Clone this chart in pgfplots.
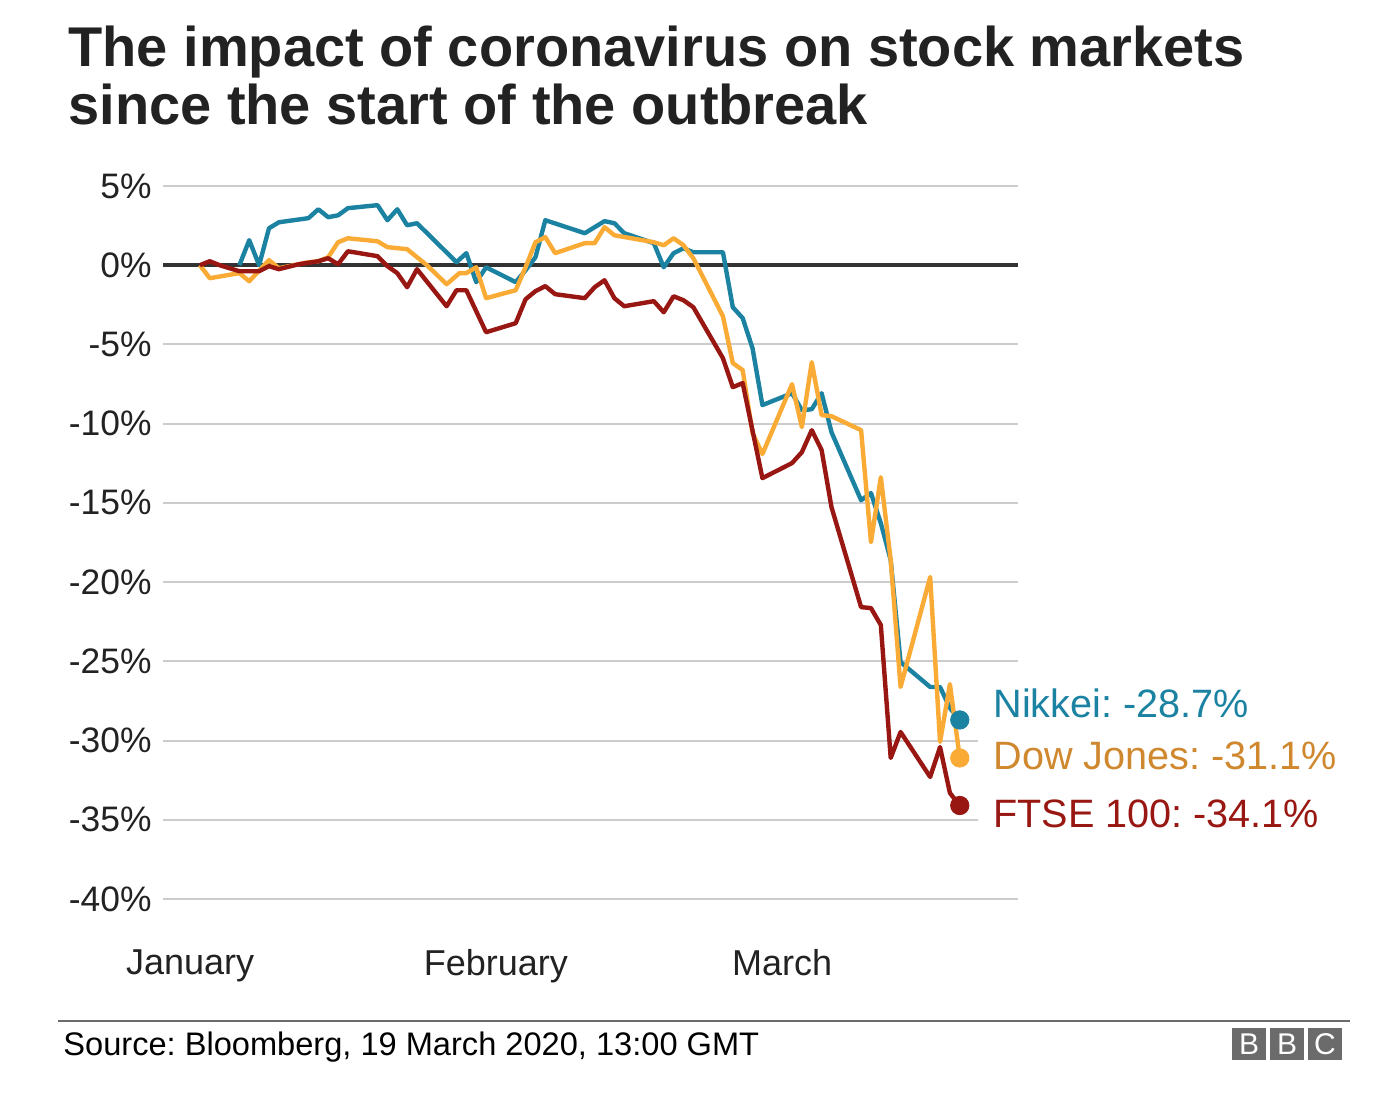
\documentclass[border=0pt]{standalone}
\usepackage{fontspec}
\setmainfont{Liberation Sans}
\usepackage{pgfplots}
\pgfplotsset{compat=1.18}
\definecolor{nikkei}{HTML}{1B82A2}
\definecolor{dow}{HTML}{FAAB36}
\definecolor{dowtext}{HTML}{CF882E}
\definecolor{ftse}{HTML}{991712}
\definecolor{txt}{HTML}{222222}
\definecolor{gridc}{HTML}{CCCCCC}
\definecolor{zeroc}{HTML}{333333}
\definecolor{bbcg}{HTML}{6B6B6B}
\frenchspacing
\begin{document}
\begin{tikzpicture}[x=0.5pt,y=0.5pt]
\path (0,0) rectangle (1388,1096);
% title
\node[anchor=base west, inner sep=0pt, text=txt, font=\fontsize{28}{32}\selectfont\bfseries] at (68,1029) {The impact of coronavirus on stock markets};
\node[anchor=base west, inner sep=0pt, text=txt, font=\fontsize{28}{32}\selectfont\bfseries] at (68,971) {since the start of the outbreak};
\begin{axis}[
  at={(81.5pt,98.5pt)}, anchor=south west,
  scale only axis, width=427.5pt, height=356.5pt,
  xmin=-2.74, xmax=83.9, ymin=-40, ymax=5,
  clip=false,
  axis line style={draw=none},
  major tick length=0pt,
  ytick={-40,-35,-30,-25,-20,-15,-10,-5,0,5},
  yticklabels={-40\%,-35\%,-30\%,-25\%,-20\%,-15\%,-10\%,-5\%,0\%,5\%},
  yticklabel style={font=\fontsize{17.7}{20}\selectfont, text=txt, anchor=east, inner sep=0pt, xshift=-5.5pt},
  xtick={0,31,60},
  xticklabels={January,February,March},
  xticklabel style={font=\fontsize{18}{20}\selectfont, text=txt, anchor=north, inner sep=0pt, yshift=-25pt},
]
\pgfplotsinvokeforeach{-40,-25,-20,-15,-10,-5,5}{
  \draw[gridc, line width=1pt] (axis cs:-2.74,#1) -- (axis cs:83.9,#1);
}
\pgfplotsinvokeforeach{-35,-30}{
  \draw[gridc, line width=1pt] (axis cs:-2.74,#1) -- (axis cs:79.8,#1);
}
\addplot[zeroc, line width=1.8pt] coordinates {(-2.74,0) (83.9,0)};
% Nikkei
\addplot[nikkei, line width=2.2pt, line join=round] coordinates {
(5,0) (6,1.58) (7,0) (8,2.33) (9,2.71) (12,2.97) (13,3.53) (14,3.03) (15,3.15) (16,3.60)
(19,3.79) (20,2.84) (21,3.53) (22,2.52) (23,2.65) (27,0.19) (28,0.76) (29,-1.07) (30,-0.13)
(33,-1.07) (34,-0.32) (35,0.50) (36,2.84) (40,2.02) (42,2.78) (43,2.65) (44,2.02) (47,1.39)
(48,-0.13) (49,0.76) (50,1.07) (51,0.82) (54,0.82) (55,-2.65) (56,-3.34) (57,-5.24) (58,-8.83)
(61,-8.08) (62,-9.15) (63,-9.09) (64,-8.08) (65,-10.54) (68,-14.83) (69,-14.38) (70,-16.28)
(71,-18.61) (72,-25.05) (75,-26.62) (76,-26.62) (77,-27.95) (78,-28.7)};
% Dow Jones
\addplot[dow, line width=2.2pt, line join=round] coordinates {
(1,0) (2,-0.82) (5,-0.50) (6,-1.01) (8,0.32) (9,-0.19) (12,0.19) (13,0.25) (14,0.50) (15,1.45)
(16,1.70) (19,1.51) (20,1.14) (22,1.01) (24,0) (26,-1.20) (27.3,-0.50) (28,-0.50) (29,-0.13)
(30,-2.08) (33,-1.58) (34,-0.13) (35,1.45) (36,1.77) (37,0.76) (40,1.39) (41,1.39) (42,2.40)
(43,1.89) (47,1.45) (48,1.26) (49,1.70) (50,1.26) (51,0.44) (54,-3.22) (55,-6.18) (56,-6.62)
(57,-10.60) (58,-11.92) (61,-7.51) (62,-10.22) (63,-6.12) (64,-9.46) (65,-9.53) (68,-10.41)
(69,-17.48) (70,-13.38) (71,-18.61) (72,-26.62) (75,-19.68) (76,-30.09) (77,-26.44) (78,-31.1)};
% FTSE 100
\addplot[ftse, line width=2.2pt, line join=round] coordinates {
(1,0) (2,0.25) (3,0) (5,-0.38) (7,-0.38) (8,-0.06) (9,-0.25) (11,0.06) (13,0.25) (14,0.44)
(15,0.06) (16,0.88) (19,0.57) (20,-0.06) (21,-0.50) (22,-1.39) (23,-0.25) (26,-2.59) (27,-1.58)
(28,-1.58) (30,-4.23) (33,-3.66) (34,-2.15) (35,-1.64) (36,-1.32) (37,-1.83) (40,-2.08)
(41,-1.39) (42,-0.95) (43,-2.08) (44,-2.59) (47,-2.27) (48,-2.97) (49,-1.96) (50,-2.21)
(51,-2.65) (54,-5.87) (55,-7.70) (56,-7.44) (58,-13.44) (61,-12.49) (62,-11.80) (63,-10.41)
(64,-11.67) (65,-15.27) (68,-21.58) (69,-21.64) (70,-22.71) (71,-31.10) (72,-29.46) (75,-32.30)
(76,-30.41) (77,-33.31) (78,-34.1)};
\addplot[only marks, mark=*, mark size=4.6pt, nikkei] coordinates {(78,-28.7)};
\addplot[only marks, mark=*, mark size=4.6pt, dow] coordinates {(78,-31.1)};
\addplot[only marks, mark=*, mark size=4.6pt, ftse] coordinates {(78,-34.1)};
\end{axis}
% end labels
\node[anchor=base west, inner sep=0pt, text=nikkei, font=\fontsize{19.8}{22}\selectfont] at (993,378) {Nikkei: -28.7\%};
\node[anchor=base west, inner sep=0pt, text=dowtext, font=\fontsize{19.8}{22}\selectfont] at (993,326) {Dow Jones: -31.1\%};
\node[anchor=base west, inner sep=0pt, text=ftse, font=\fontsize{19.8}{22}\selectfont] at (993,268) {FTSE 100: -34.1\%};
% footer
\draw[bbcg, line width=1pt] (58,75) -- (1350,75);
\node[anchor=base west, inner sep=0pt, text=black, font=\fontsize{16.3}{19}\selectfont] at (63,40) {Source: Bloomberg, 19 March 2020, 13:00 GMT};
\foreach \xx/\ll in {1232/B,1270/B,1308/C}{
  \fill[bbcg] (\xx,36) rectangle ++(34,32);
  \node[text=white, font=\fontsize{15}{16}\selectfont, inner sep=0pt] at ([xshift=8.5pt]\xx,52) {\ll};
}
\end{tikzpicture}
\end{document}
